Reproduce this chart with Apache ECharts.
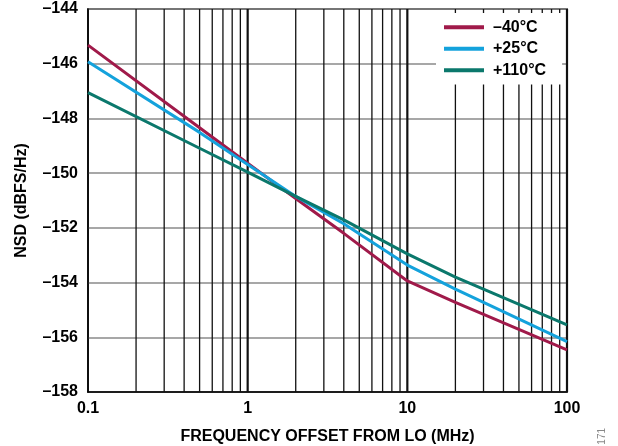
<!DOCTYPE html>
<html>
<head>
<meta charset="utf-8">
<script src="https://cdn.jsdelivr.net/npm/echarts@6/dist/echarts.min.js"></script>
<style>
html,body{margin:0;padding:0;background:#fff;}
#c{width:618px;height:446px;}
</style>
</head>
<body>
<div id="c"></div>
<script>
// ---- data ----
var freqs = [0.1, 0.5, 1, 2, 4, 10, 20, 100];
var nsdMinus40 = [-145.32, -148.34, -149.64, -150.93, -152.2, -153.94, -154.72, -156.46];
var nsdPlus25  = [-145.93, -148.51, -149.68, -150.85, -151.85, -153.36, -154.24, -156.16];
var nsdPlus110 = [-147.06, -149.09, -149.96, -150.85, -151.71, -152.95, -153.8, -155.55];
var seriesNames = ['\u201340\u00b0C', '+25\u00b0C', '+110\u00b0C'];
var gridFreqs = [0.2,0.3,0.4,0.5,0.6,0.7,0.8,0.9,1,2,3,4,5,6,7,8,9,10,20,30,40,50,60,70,80,90,100];
var decadeFreqs = [1, 10, 100];
var yMin = -158, yMax = -144, yStep = 2;
var xTitle = 'FREQUENCY OFFSET FROM LO (MHz)';
var yTitle = 'NSD (dBFS/Hz)';
var figNote = '171';

var colors = ['#a01a4a', '#14a2dc', '#0b786c'];
var FONT = '"Liberation Sans", Arial, Helvetica, sans-serif';

function pairs(ys){ return freqs.map(function(f,i){ return [f, ys[i]]; }); }

var chart = echarts.init(document.getElementById('c'), null, {renderer:'canvas'});
chart.setOption({
  animation: false,
  backgroundColor: '#fff',
  grid: {left: 88, right: 51, top: 9, bottom: 54, outerBoundsMode: 'none', containLabel: false,
    show: true, borderColor: '#000', borderWidth: 1.5, backgroundColor: 'transparent'},
  legend: {
    data: seriesNames,
    orient: 'vertical',
    left: 436, top: 13,
    padding: [6, 8, 6, 8],
    backgroundColor: '#fff',
    icon: 'rect',
    itemWidth: 40, itemHeight: 4,
    itemGap: 5,
    textStyle: {fontFamily: FONT, fontWeight: 'bold', fontSize: 16, color: '#000', lineHeight: 16.5, padding: [0,8,0,4]}
  },
  xAxis: {
    type: 'log', logBase: 10, min: 0.1, max: 100,
    name: xTitle, nameLocation: 'middle', nameGap: 37,
    nameTextStyle: {fontFamily: FONT, fontWeight: 'bold', fontSize: 16, color: '#000'},
    axisLine: {show: true, onZero: false, lineStyle: {color: '#000', width: 1.5}},
    axisTick: {show: false},
    splitLine: {show: false},
    axisLabel: {fontFamily: FONT, fontWeight: 'bold', fontSize: 16, color: '#000', margin: 9,
      formatter: function(v){ return String(+v.toPrecision(3)); }}
  },
  yAxis: {
    type: 'value', min: yMin, max: yMax, interval: yStep,
    name: yTitle, nameLocation: 'middle', nameGap: 58, nameRotate: 90,
    nameTextStyle: {fontFamily: FONT, fontWeight: 'bold', fontSize: 16, color: '#000'},
    axisLine: {show: true, lineStyle: {color: '#000', width: 1.5}},
    axisTick: {show: false},
    splitLine: {show: true, lineStyle: {color: '#8a8a8a', width: 1.5}},
    axisLabel: {fontFamily: FONT, fontWeight: 'bold', fontSize: 16, color: '#000', margin: 10,
      formatter: function(v){ return String(v).replace('-', '\u2013'); }}
  },
  series: [
    {
      type: 'custom', name: 'vgrid', silent: true, z: 1,
      data: gridFreqs.map(function(f){ return [f, yMin]; }),
      renderItem: function(params, api){
        var f = api.value(0);
        var p1 = api.coord([f, yMax]);
        var p2 = api.coord([f, yMin]);
        var thick = decadeFreqs.indexOf(f) >= 0;
        return {type: 'line', shape: {x1: p1[0], y1: p1[1], x2: p2[0], y2: p2[1]},
          style: {stroke: '#111', lineWidth: thick ? 2.2 : 1.3}};
      }
    },
    {type: 'line', name: seriesNames[0], data: pairs(nsdMinus40), showSymbol: false, z: 3,
      lineStyle: {color: colors[0], width: 3}, itemStyle: {color: colors[0]}},
    {type: 'line', name: seriesNames[1], data: pairs(nsdPlus25), showSymbol: false, z: 3,
      lineStyle: {color: colors[1], width: 3}, itemStyle: {color: colors[1]}},
    {type: 'line', name: seriesNames[2], data: pairs(nsdPlus110), showSymbol: false, z: 3,
      lineStyle: {color: colors[2], width: 3}, itemStyle: {color: colors[2]}}
  ],
  graphic: [{
    type: 'text', left: 597, top: 428, rotation: Math.PI/2,
    style: {text: figNote, fontFamily: FONT, fontSize: 10, fill: '#888'}
  }]
});
</script>
</body>
</html>
